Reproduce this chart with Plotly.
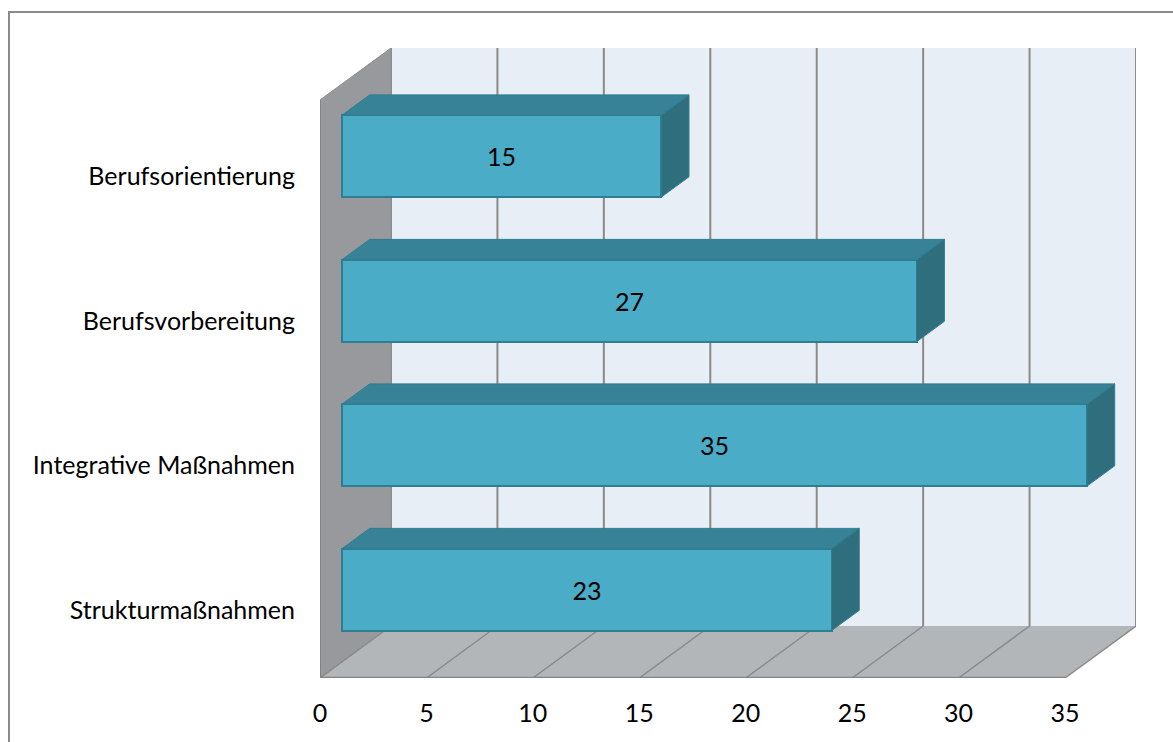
import plotly.graph_objects as go

# Data
categories = ["Strukturmaßnahmen", "Integrative Maßnahmen", "Berufsvorbereitung", "Berufsorientierung"]
values = [23, 35, 27, 15]
x_ticks = [0, 5, 10, 15, 20, 25, 30, 35]

# Canvas / layout geometry
W, H = 1173, 742
ML, MR, MT, MB = 320, 37, 48, 64
X_MAX = 35
PX_PER_X = 21.285             # horizontal pixels per value unit
DEPTH_PX = (71, 52)           # oblique depth offset of the back wall in pixels
DX = DEPTH_PX[0] / PX_PER_X   # depth offset in value units
N = len(categories)
PX_PER_Y = 144.5
DY = DEPTH_PX[1] / PX_PER_Y   # depth offset in category units
F0, F1 = 0.31, 0.70           # bar front/back depth fractions
BAR_H = 0.567
LABEL_SHIFT = 0.03            # category labels sit slightly below the band centre

C_WALL = "#e8eef6"
C_SIDE = "#97999c"
C_FLOOR = "#b3b6b9"
C_GRID = "#8a8a8a"
C_FRONT = "#4aacc6"
C_TOP = "#378296"
C_RIGHT = "#2f6e7c"
C_EDGE = "#2f7d91"

FONT = "Lato, 'Open Sans', sans-serif"
FS = 25


def poly(pts):
    return "M " + " L ".join(f"{x},{y}" for x, y in pts) + " Z"


shapes = []
# back wall
shapes.append(dict(type="path", xref="x", yref="y", layer="below",
                   path=poly([(DX, DY), (X_MAX + DX, DY), (X_MAX + DX, N + DY), (DX, N + DY)]),
                   fillcolor=C_WALL, line=dict(width=0)))
# back wall gridlines
for v in x_ticks:
    shapes.append(dict(type="line", xref="x", yref="y", layer="below",
                       x0=v + DX, x1=v + DX, y0=DY, y1=N + DY,
                       line=dict(color=C_GRID, width=2)))
# left side wall
shapes.append(dict(type="path", xref="x", yref="y", layer="below",
                   path=poly([(0, 0), (DX, DY), (DX, N + DY), (0, N)]),
                   fillcolor=C_SIDE, line=dict(color="#8c8d90", width=1)))
shapes.append(dict(type="line", xref="x", yref="y", layer="below",
                   x0=0, x1=0, y0=0, y1=N, line=dict(color="#808285", width=2)))
# floor
shapes.append(dict(type="path", xref="x", yref="y", layer="below",
                   path=poly([(0, 0), (X_MAX, 0), (X_MAX + DX, DY), (DX, DY)]),
                   fillcolor=C_FLOOR, line=dict(width=0)))
for v in x_ticks:
    shapes.append(dict(type="line", xref="x", yref="y", layer="below",
                       x0=v, x1=v + DX, y0=0, y1=DY,
                       line=dict(color=C_GRID, width=1.5)))
shapes.append(dict(type="line", xref="x", yref="y", layer="below",
                   x0=0, x1=X_MAX, y0=0, y1=0, line=dict(color="#858585", width=2.5)))

# outer chart border (top and left visible)
pw = W - ML - MR
ph = H - MT - MB
shapes.append(dict(type="rect", xref="paper", yref="paper", layer="below",
                   x0=(9 - ML) / pw, x1=(W + 20 - ML) / pw,
                   y0=-(MB + 20) / ph, y1=(H - MB - 12) / ph,
                   line=dict(color="#8a8a8a", width=2), fillcolor="rgba(0,0,0,0)"))

fig = go.Figure()

centers = [i + 0.5 for i in range(N)]

# front faces of the bars
fig.add_trace(go.Bar(
    orientation="h",
    y=[c + F0 * DY for c in centers],
    x=values,
    base=[F0 * DX] * N,
    width=BAR_H,
    marker=dict(color=C_FRONT, line=dict(color=C_EDGE, width=2)),
    text=[str(v) for v in values],
    textposition="inside",
    insidetextanchor="middle",
    textfont=dict(family=FONT, size=FS, color="black"),
    hoverinfo="skip",
    showlegend=False,
))

# top and right faces of the bars
for c, v in zip(centers, values):
    x0f, x1f = F0 * DX, v + F0 * DX
    x0b, x1b = F1 * DX, v + F1 * DX
    yb0, yt0 = c - BAR_H / 2 + F0 * DY, c + BAR_H / 2 + F0 * DY
    yb1, yt1 = c - BAR_H / 2 + F1 * DY, c + BAR_H / 2 + F1 * DY
    top = [(x0f, yt0), (x1f, yt0), (x1b, yt1), (x0b, yt1), (x0f, yt0)]
    right = [(x1f, yb0), (x1b, yb1), (x1b, yt1), (x1f, yt0), (x1f, yb0)]
    for pts, col in ((top, C_TOP), (right, C_RIGHT)):
        fig.add_trace(go.Scatter(
            x=[p[0] for p in pts], y=[p[1] for p in pts],
            mode="lines", fill="toself", fillcolor=col,
            line=dict(color=C_EDGE, width=1),
            hoverinfo="skip", showlegend=False,
        ))

fig.update_layout(
    width=W, height=H,
    margin=dict(l=ML, r=MR, t=MT, b=MB, pad=0),
    paper_bgcolor="white", plot_bgcolor="rgba(0,0,0,0)",
    shapes=shapes,
    xaxis=dict(range=[0, X_MAX + DX], tickvals=x_ticks, ticktext=[str(t) for t in x_ticks],
               showgrid=False, zeroline=False, showline=False, ticks="",
               ticklabelstandoff=18,
               tickfont=dict(family=FONT, size=FS, color="black"), fixedrange=True),
    yaxis=dict(range=[0, N + DY], tickvals=[c - LABEL_SHIFT for c in centers], ticktext=categories,
               showgrid=False, zeroline=False, showline=False, ticks="",
               ticklabelstandoff=24,
               tickfont=dict(family=FONT, size=FS, color="black"), fixedrange=True),
    bargap=0,
)

fig.write_html("out.html")
